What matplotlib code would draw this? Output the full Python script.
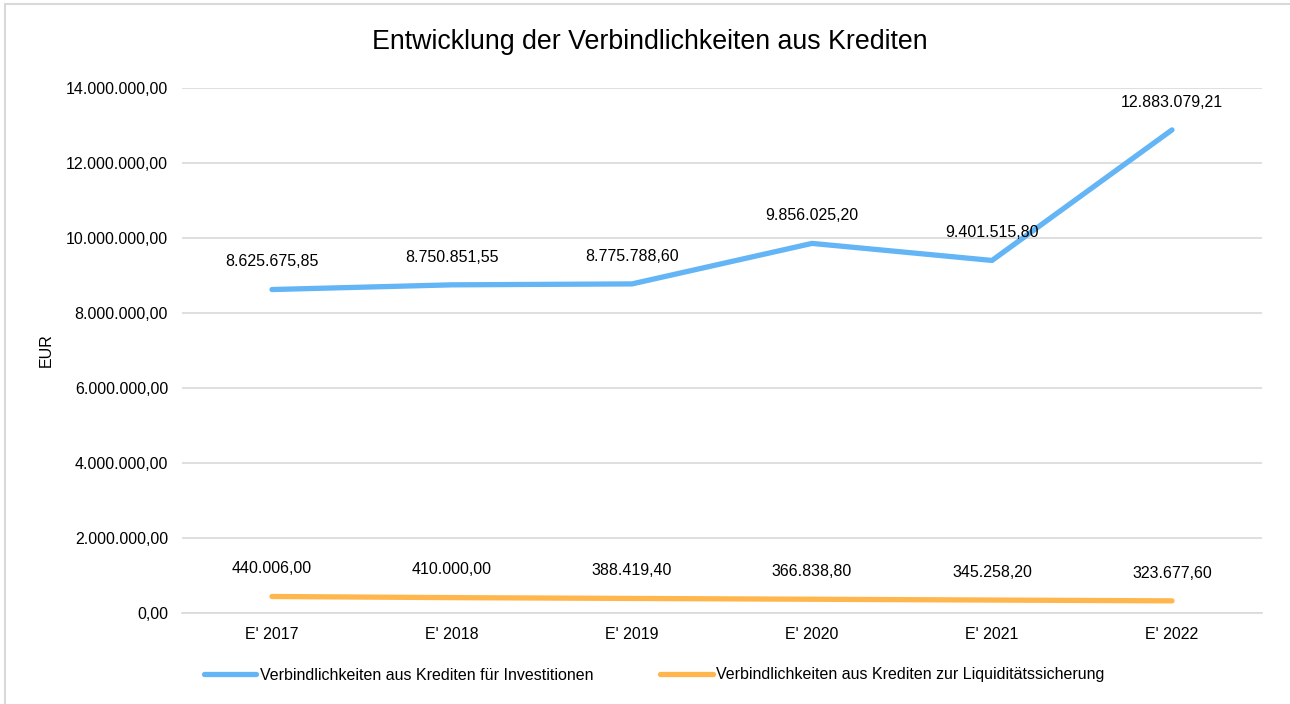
import matplotlib.pyplot as plt
from matplotlib.patches import Rectangle
from matplotlib.ticker import FuncFormatter

plt.rcParams['font.family'] = ['Liberation Sans', 'DejaVu Sans']

years = ["E' 2017", "E' 2018", "E' 2019", "E' 2020", "E' 2021", "E' 2022"]
investitionen = [8625675.85, 8750851.55, 8775788.60, 9856025.20, 9401515.80, 12883079.21]
liquiditaet = [440006.00, 410000.00, 388419.40, 366838.80, 345258.20, 323677.60]
yticks = [0, 2000000, 4000000, 6000000, 8000000, 10000000, 12000000, 14000000]


def de_fmt(v):
    s = f"{v:,.2f}"
    return s.replace(",", "X").replace(".", ",").replace("X", ".")


W, H = 1290, 704
fig = plt.figure(figsize=(W / 100, H / 100), dpi=100)
ax = fig.add_axes([182 / W, (H - 613) / H, (1262 - 182) / W, (613 - 88) / H])

# outer chart border
fig.patches.append(Rectangle((5 / W, -0.01), 1.02, (H - 4) / H + 0.01, transform=fig.transFigure,
                             fill=False, edgecolor='#d9d9d9', linewidth=1.5))

x = range(len(years))
blue = '#64b5f6'
orange = '#ffb74d'
ax.plot(x, investitionen, color=blue, linewidth=3.8, solid_capstyle='round',
        label='Verbindlichkeiten aus Krediten für Investitionen')
ax.plot(x, liquiditaet, color=orange, linewidth=3.8, solid_capstyle='round',
        label='Verbindlichkeiten aus Krediten zur Liquiditätssicherung')

for xi, v in zip(x, investitionen):
    ax.annotate(de_fmt(v), (xi, v), xytext=(0, 20), textcoords='offset points',
                ha='center', va='center', fontsize=11.5)
for xi, v in zip(x, liquiditaet):
    ax.annotate(de_fmt(v), (xi, v), xytext=(0, 20), textcoords='offset points',
                ha='center', va='center', fontsize=11.5)

ax.set_xlim(-0.5, len(years) - 0.5)
ax.set_ylim(0, 14000000)
ax.set_yticks(yticks)
ax.yaxis.set_major_formatter(FuncFormatter(lambda v, p: de_fmt(v)))
ax.set_xticks(list(x))
ax.set_xticklabels(years)
ax.tick_params(length=0, labelsize=11.5, pad=10)
ax.grid(axis='y', color='#d9d9d9', linewidth=1.2)
ax.set_axisbelow(True)
for s in ['top', 'right', 'left']:
    ax.spines[s].set_visible(False)
ax.spines['bottom'].set_color('#d9d9d9')
ax.spines['bottom'].set_linewidth(1.2)

ax.set_ylabel('EUR', fontsize=11.5)
ax.yaxis.set_label_coords(-128 / (1262 - 182), 0.5)

fig.text(650 / W, 1 - 42 / H, 'Entwicklung der Verbindlichkeiten aus Krediten',
         ha='center', va='center', fontsize=19.3)

fig.legend(loc='center', bbox_to_anchor=(654 / W, 1 - 675 / H), ncol=2, frameon=False,
           fontsize=11.5, handlelength=3.3, handletextpad=0.2, columnspacing=4.2)

fig.savefig('out.png', dpi=100, facecolor='white')
